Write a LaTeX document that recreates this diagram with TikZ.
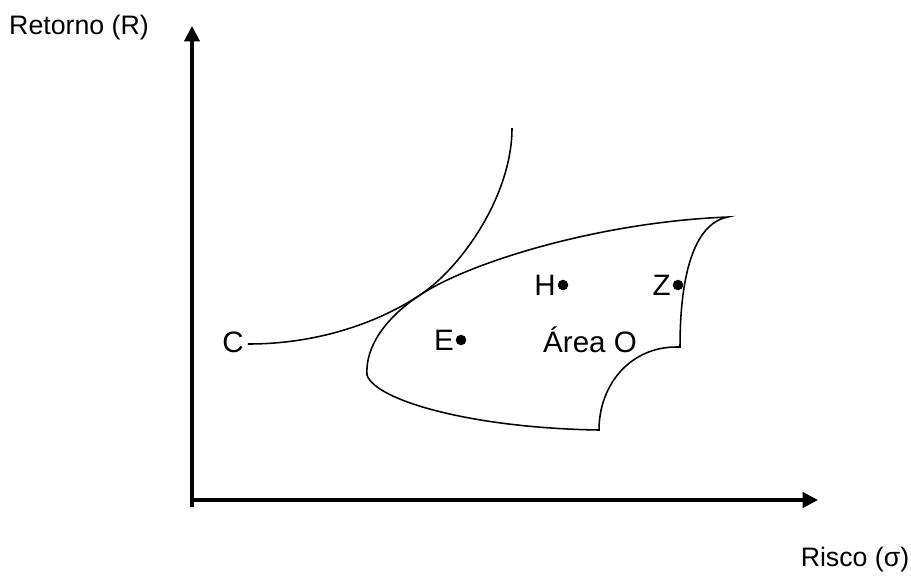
\documentclass[tikz,border=0pt]{standalone}
\usepackage{fontspec}
\setmainfont{Liberation Sans}
\usetikzlibrary{arrows.meta}

\begin{document}
\begin{tikzpicture}[x=0.025cm, y=-0.025cm,
    asse/.style={line width=2.2pt, -{Triangle[length=11pt, width=11pt]}},
    curva/.style={line width=1.1pt},
    lbl/.style={font=\fontsize{19}{23}\selectfont, inner sep=0pt},
    lblin/.style={font=\fontsize{21}{25}\selectfont, inner sep=0pt},
    punto/.style={circle, fill=black, inner sep=0pt, minimum size=7.5pt}]
    \useasboundingbox (0,0) rectangle (911,575);
        %origine e assi
        \coordinate (O) at (192,500);
        \coordinate (ytip) at (192,26);
        \coordinate (xtip) at (818,500);
        \draw[asse] ([yshift=-5]O) -- (ytip);
        \draw[asse] ([xshift=-1]O) -- (xtip);
        %etichette assi
        \node[lbl] (ret) at (79,28) {Retorno (R)};
        \node[lbl] (ris) at (855,560) {Risco (σ)};
        %curva C
        \node[lblin] (C) at (233,342) {C};
        \coordinate (T) at (420,295);
        \draw[curva] (C.east) ++(4,2) .. controls (330,344) and (390,315) .. (T)
            .. controls (462,267) and (512,195) .. (512,128);
        %area O
        \draw[curva] (367,375) .. controls (365,345) and (388,316) .. (T)
            .. controls (470,262) and (600,222) .. (728,217)
            .. controls (700,222) and (680,260) .. (680,347)
            -- (676,347) .. controls (631,347) and (599,384) .. (599,430)
            .. controls (470,428) and (375,400) .. (367,375);
        %punti
        \node[punto] (E) at (461,340) {};
        \node[punto] (H) at (563,285) {};
        \node[punto] (Z) at (678,285) {};
        \node[lblin, left=1pt] (Elbl) at (E.west) {E};
        \node[lblin, left=1pt] (Hlbl) at (H.west) {H};
        \node[lblin, left=1pt] (Zlbl) at (Z.west) {Z};
        \node[lblin] (area) at (590,340) {Área O};
\end{tikzpicture}
\end{document}
